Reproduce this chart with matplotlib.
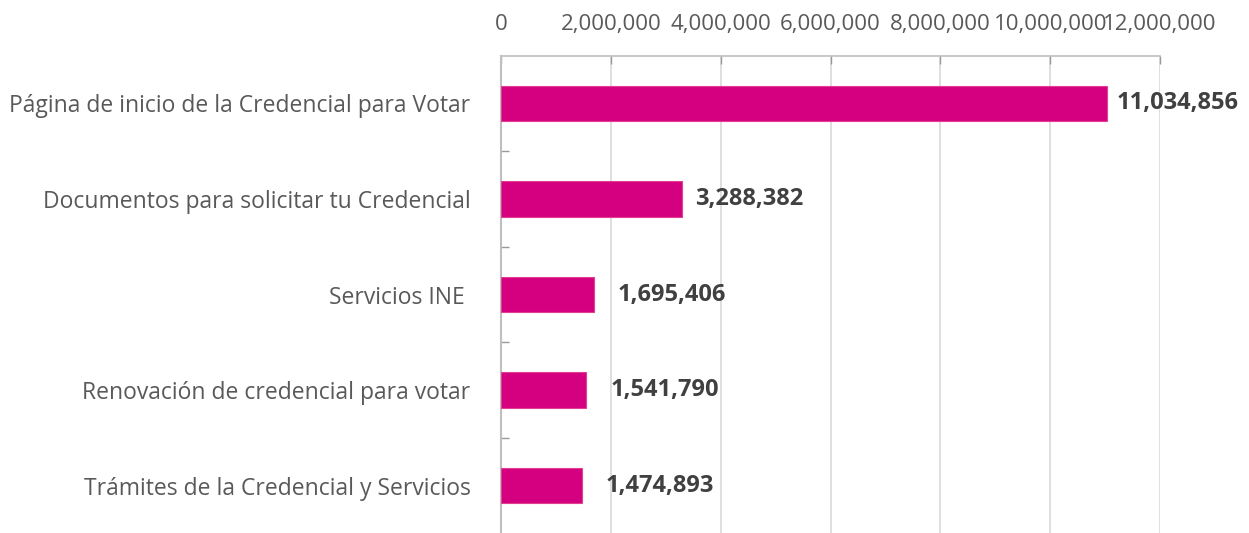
#!/usr/bin/env python

import matplotlib
matplotlib.use("Agg")
import matplotlib.pyplot as plt
from matplotlib.ticker import FuncFormatter, FixedLocator

categories = [
    "Página de inicio de la Credencial para Votar",
    "Documentos para solicitar tu Credencial",
    "Servicios INE ",
    "Renovación de credencial para votar",
    "Trámites de la Credencial y Servicios",
]
values = [11034856, 3288382, 1695406, 1541790, 1474893]
xticks = [0, 2000000, 4000000, 6000000, 8000000, 10000000, 12000000]

plt.rcParams['font.family'] = ['Open Sans', 'DejaVu Sans']

fig = plt.figure(figsize=(12.49, 5.33), dpi=100)
ax = fig.add_axes([0.4011, -0.001, 0.5277, 0.8966])

pos = list(range(len(values)))
ax.barh(pos, values, height=0.37, color="#D5007F", edgecolor="#E0408F", linewidth=0.8, zorder=3)

# value labels, offsets in points as Excel placed them
offsets = [7, 10, 17, 18, 17]
for p, v, off in zip(pos, values, offsets):
    ax.annotate(f"{v:,}", (v, p), xytext=(off, 0), textcoords="offset points",
                va="center", ha="left", fontsize=17, fontweight="bold", color="#404040")

ax.set_xlim(0, 12000000)
ax.set_ylim(4.5, -0.5)
ax.xaxis.set_major_locator(FixedLocator(xticks))
ax.xaxis.set_major_formatter(FuncFormatter(lambda x, _: f"{int(x):,}"))
ax.xaxis.tick_top()
ax.tick_params(axis="x", which="major", direction="in", length=6, width=1, color="#999999",
               labelsize=16, labelcolor="#595959", pad=15)
ax.grid(axis="x", color="#D9D9D9", linewidth=1.2, zorder=0)

ax.set_yticks(pos)
ax.set_yticklabels(categories)
ax.tick_params(axis="y", which="major", length=0, labelsize=16.5, labelcolor="#595959", pad=22)
ax.set_yticks([0.5, 1.5, 2.5, 3.5], minor=True)
ax.tick_params(axis="y", which="minor", direction="in", length=6, width=1, color="#999999")

for s in ["right", "bottom"]:
    ax.spines[s].set_visible(False)
ax.spines["left"].set_color("#BFBFBF")
ax.spines["left"].set_linewidth(1.5)
ax.spines["top"].set_color("#BFBFBF")
ax.spines["top"].set_linewidth(1.2)

plt.savefig("out.png", dpi=100)
